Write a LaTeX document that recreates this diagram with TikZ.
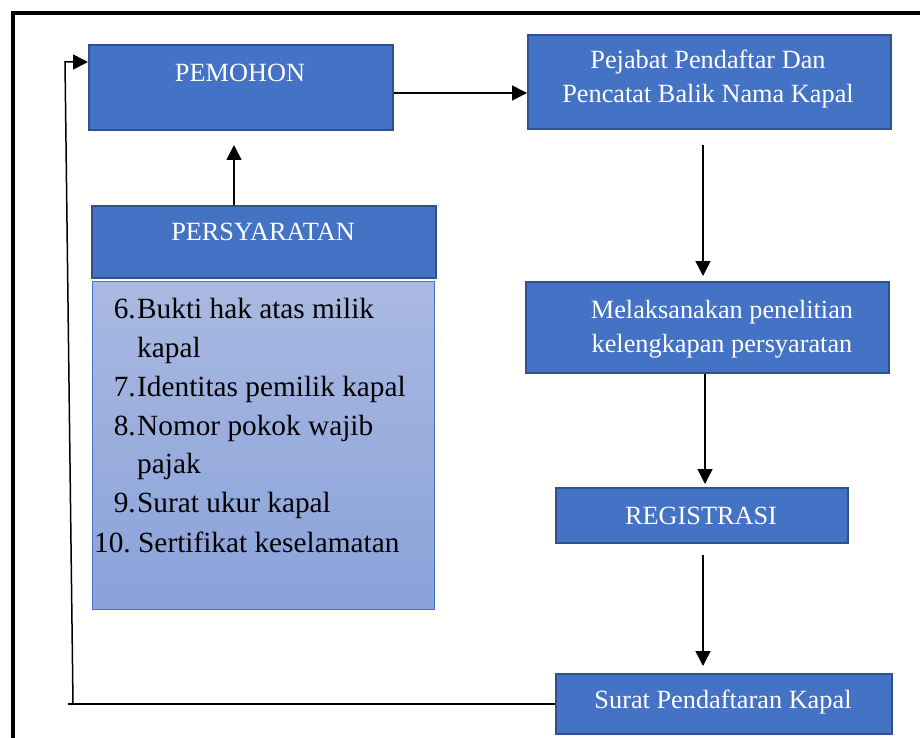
\documentclass[tikz,border=0pt]{standalone}
\usepackage{fontspec}
\setmainfont{Liberation Serif}
\usetikzlibrary{arrows.meta}
\definecolor{boxblue}{HTML}{4472C4}
\definecolor{boxedge}{HTML}{2F528F}
\definecolor{listtop}{HTML}{A9B9E1}
\definecolor{listbot}{HTML}{8AA2DA}
\tikzset{
  x=1pt,y=-1pt,
  bluebox/.style={draw=boxedge,line width=1.6pt,fill=boxblue,inner sep=0pt,anchor=north west},
  boxtext/.style={text=white,font=\fontsize{26.3}{34}\selectfont,align=center,inner sep=0pt},
  listtext/.style={font=\fontsize{29.3}{34}\selectfont,inner sep=0pt,anchor=base west},
  listnum/.style={font=\fontsize{29.3}{34}\selectfont,inner sep=0pt,anchor=base east},
  conn/.style={line width=1.5pt,-{Triangle[length=15pt,width=15pt]}},
  plainconn/.style={line width=1.5pt}
}
\begin{document}
\begin{tikzpicture}
\useasboundingbox (0,0) rectangle (920,738);
\fill[white] (0,0) rectangle (920,738);
% outer frame
\draw[line width=4pt] (13,745) -- (13,13) -- (925,13);
% boxes
\node[bluebox,minimum width=304pt,minimum height=85pt] (pemohon) at (88,44) {};
\node[boxtext] (tpemohon) at (240,73) {PEMOHON};
\node[bluebox,minimum width=363pt,minimum height=94pt] (pejabat) at (527,34) {};
\node[boxtext] (tpejabat) at (708,79) {Pejabat Pendaftar Dan\\Pencatat Balik Nama Kapal};
\node[bluebox,minimum width=344pt,minimum height=72pt] (syarat) at (91,205) {};
\node[boxtext] (tsyarat) at (263,232) {PERSYARATAN};
\node[draw=boxblue,line width=0.8pt,top color=listtop,bottom color=listbot,inner sep=0pt,anchor=north west,minimum width=342pt,minimum height=328pt] (list) at (92,281) {};
\node[bluebox,minimum width=363pt,minimum height=91pt] (teliti) at (525,281) {};
\node[boxtext] (tteliti) at (722,329) {Melaksanakan penelitian\\kelengkapan persyaratan};
\node[bluebox,minimum width=292pt,minimum height=55pt] (regis) at (555,487) {};
\node[boxtext] (tregis) at (701,516) {REGISTRASI};
\node[bluebox,minimum width=336pt,minimum height=60pt] (surat) at (555,673) {};
\node[boxtext] (tsurat) at (723,702) {Surat Pendaftaran Kapal};
% list items
\node[listnum] (n6) at (136,318) {6.};
\node[listtext] (l6a) at (137,318) {Bukti hak atas milik};
\node[listtext] (l6b) at (137,357) {kapal};
\node[listnum] (n7) at (136,396) {7.};
\node[listtext] (l7) at (137,396) {Identitas pemilik kapal};
\node[listnum] (n8) at (136,435) {8.};
\node[listtext] (l8a) at (137,435) {Nomor pokok wajib};
\node[listtext] (l8b) at (137,473) {pajak};
\node[listnum] (n9) at (136,512) {9.};
\node[listtext] (l9) at (137,512) {Surat ukur kapal};
\node[listnum] (n10) at (131,552) {10.};
\node[listtext] (l10) at (138,552) {Sertifikat keselamatan};
% connectors
\coordinate (c1) at (234,145);
\draw[conn] (syarat.north -| c1) -- (c1);
\draw[conn] (pemohon.east |- 0,93) -- (pejabat.west |- 0,93);
\coordinate (c2) at (703,145);
\coordinate (c3) at (703,276);
\draw[conn] (c2) -- (c3);
\coordinate (c4) at (705,484);
\draw[conn] (teliti.south -| c4) -- (c4);
\coordinate (c5) at (703,555);
\coordinate (c6) at (703,666);
\draw[conn] (c5) -- (c6);
% feedback
\coordinate (f0) at (68,704);
\coordinate (f1) at (73,704);
\coordinate (f2) at (65,62);
\draw[plainconn] (surat.west |- 0,704) -- (f0);
\draw[conn] (f1) -- (f2) -- (pemohon.west |- 0,62);
\end{tikzpicture}
\end{document}
